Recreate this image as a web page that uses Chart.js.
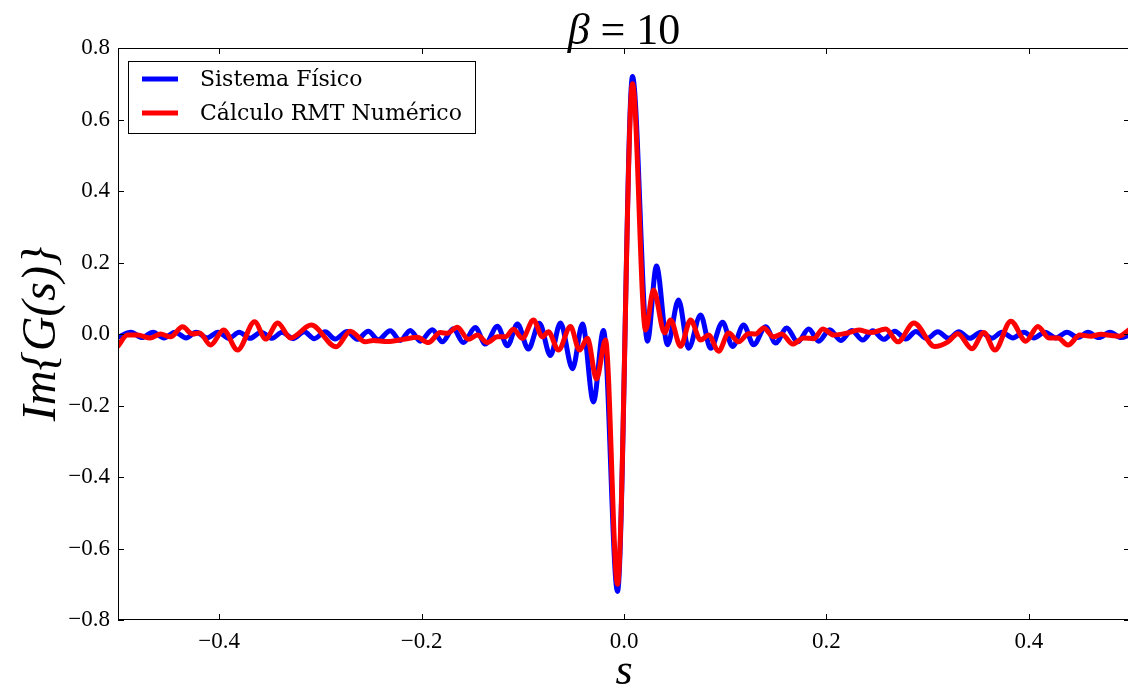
<!DOCTYPE html>
<html>
<head>
<meta charset="utf-8">
<script src="https://cdn.jsdelivr.net/npm/chart.js@4/dist/chart.umd.min.js"></script>
<style>
  html, body { margin: 0; padding: 0; background: #fff; overflow: hidden; }
  #wrap { position: relative; width: 1130px; height: 686px; }
</style>
</head>
<body>
<div id="wrap"><canvas id="chart" width="1130" height="686"></canvas></div>
<script>
// ===== DATA =====
const xTicks = [-0.4, -0.2, 0.0, 0.2, 0.4];
const yTicks = [-0.8, -0.6, -0.4, -0.2, 0.0, 0.2, 0.4, 0.6, 0.8];

// Sistema Físico (blue)
const fisicoS = [-0.5, -0.4872, -0.4763, -0.4654, -0.4545, -0.4436, -0.4327, -0.4228, -0.412, -0.4011,
  -0.3902, -0.3803, -0.3694, -0.3586, -0.3477, -0.3378, -0.3269, -0.316, -0.3061, -0.2953,
  -0.2854, -0.2735, -0.2636, -0.2527, -0.2428, -0.231, -0.2211, -0.2112, -0.2013, -0.1894,
  -0.1795, -0.1687, -0.1588, -0.1469, -0.137, -0.1251, -0.1152, -0.1053, -0.0945, -0.0836,
  -0.0727, -0.0628, -0.0509, -0.041, -0.0302, -0.0203, -0.0064, 0.0084, 0.0232, 0.0321,
  0.043, 0.0539, 0.0638, 0.0757, 0.0856, 0.0974, 0.1073, 0.1182, 0.1281, 0.14,
  0.1499, 0.1608, 0.1716, 0.1825, 0.1924, 0.2033, 0.2142, 0.225, 0.2359, 0.2458,
  0.2567, 0.2676, 0.2785, 0.2884, 0.2992, 0.3101, 0.321, 0.3309, 0.3418, 0.3526,
  0.3635, 0.3734, 0.3843, 0.3952, 0.4051, 0.4159, 0.4268, 0.4377, 0.4486, 0.4585,
  0.4693, 0.4802, 0.4911, 0.5];
const fisicoG = [-0.009, 0.005, -0.010, 0.005, -0.011, 0.005, -0.011, 0.005, -0.011, 0.005,
  -0.012, 0.005, -0.012, 0.005, -0.012, 0.005, -0.013, 0.006, -0.013, 0.006,
  -0.014, 0.007, -0.015, 0.008, -0.016, 0.009, -0.018, 0.010, -0.020, 0.012,
  -0.022, 0.015, -0.024, 0.018, -0.028, 0.022, -0.033, 0.028, -0.042, 0.030,
  -0.060, 0.031, -0.097, 0.028, -0.190, 0.010, -0.720, 0.720, -0.020, 0.190,
  -0.030, 0.095, -0.040, 0.053, -0.040, 0.033, -0.035, 0.025, -0.030, 0.020,
  -0.025, 0.017, -0.022, 0.014, -0.020, 0.012, -0.018, 0.010, -0.017, 0.009,
  -0.015, 0.008, -0.014, 0.007, -0.013, 0.006, -0.012, 0.006, -0.012, 0.005,
  -0.012, 0.005, -0.011, 0.005, -0.011, 0.005, -0.011, 0.005, -0.010, 0.005,
  -0.010, 0.005, -0.010, -0.002];

// Cálculo RMT Numérico (red)
const rmtS = [-0.5, -0.4906, -0.4807, -0.4678, -0.4579, -0.4481, -0.4362, -0.4263, -0.4194, -0.4085,
  -0.3957, -0.3818, -0.365, -0.3541, -0.3422, -0.3294, -0.3091, -0.2844, -0.2705, -0.2557,
  -0.2478, -0.2339, -0.2181, -0.2043, -0.1934, -0.1815, -0.1746, -0.1647, -0.1538, -0.1449,
  -0.135, -0.1251, -0.1172, -0.1093, -0.1004, -0.0895, -0.0806, -0.0747, -0.0648, -0.0529,
  -0.044, -0.0361, -0.0272, -0.0183, -0.0064, 0.0084, 0.0213, 0.0292, 0.0401, 0.046,
  0.0559, 0.0658, 0.0757, 0.0836, 0.0935, 0.1034, 0.1133, 0.1231, 0.1301, 0.138,
  0.1479, 0.1558, 0.1667, 0.1776, 0.1875, 0.1964, 0.2073, 0.2211, 0.232, 0.2439,
  0.2587, 0.2706, 0.2864, 0.3072, 0.3201, 0.3299, 0.3438, 0.3556, 0.3665, 0.3823,
  0.3971, 0.409, 0.4199, 0.4288, 0.4387, 0.4505, 0.4614, 0.4713, 0.4812, 0.4891, 0.5];
const rmtG = [-0.034, -0.003, -0.003, -0.011, 0.000, -0.008, 0.020, 0.000, 0.003, -0.031,
  0.011, -0.045, 0.034, -0.014, 0.031, -0.011, 0.025, -0.036, 0.008, -0.022,
  -0.018, -0.021, -0.015, -0.009, -0.024, 0.004, 0.002, 0.019, -0.015, -0.003,
  -0.024, -0.008, -0.008, 0.013, -0.012, 0.039, -0.008, 0.006, -0.045, 0.021,
  -0.045, -0.012, -0.126, -0.017, -0.700, 0.700, 0.011, 0.123, 0.003, 0.039,
  -0.034, 0.039, -0.017, -0.003, -0.048, 0.003, -0.022, 0.001, 0.000, 0.017,
  -0.008, 0.000, -0.028, -0.011, -0.013, 0.014, -0.003, 0.003, 0.011, 0.004,
  0.014, -0.022, 0.031, -0.035, -0.022, 0.001, -0.041, 0.004, -0.045, 0.036,
  -0.020, 0.021, -0.011, -0.011, -0.031, -0.003, -0.006, -0.001, -0.004, -0.006, 0.014];

const SERIF = '"Liberation Serif", "Times New Roman", serif';
const fmt = v => (Math.abs(v) < 1e-9 ? 0 : v).toFixed(1).replace('-', '\u2212');

// ===== FRAME / INWARD TICKS / TITLE / LEGEND =====
const decor = {
  id: 'decor',
  afterDatasetsDraw(chart) {
    const { ctx, chartArea: a, scales: { x, y } } = chart;
    ctx.save();
    ctx.strokeStyle = '#000';
    ctx.lineWidth = 1;
    ctx.strokeRect(a.left + 0.5, a.top + 0.5, a.right - a.left - 1, a.bottom - a.top - 1);
    ctx.beginPath();
    xTicks.forEach(v => {
      const px = Math.round(x.getPixelForValue(v)) + 0.5;
      ctx.moveTo(px, a.bottom); ctx.lineTo(px, a.bottom - 6);
      ctx.moveTo(px, a.top); ctx.lineTo(px, a.top + 6);
    });
    yTicks.forEach(v => {
      const py = Math.round(y.getPixelForValue(v)) + 0.5;
      ctx.moveTo(a.left, py); ctx.lineTo(a.left + 6, py);
      ctx.moveTo(a.right, py); ctx.lineTo(a.right - 6, py);
    });
    ctx.stroke();

    // legend
    const lx = 128, ly = 61, lw = 347, lh = 72;
    ctx.fillStyle = '#fff';
    ctx.fillRect(lx, ly, lw, lh);
    ctx.strokeRect(lx + 0.5, ly + 0.5, lw, lh);
    ctx.font = '22px "DejaVu Serif"';
    ctx.textBaseline = 'middle';
    chart.data.datasets.forEach((ds, i) => {
      const yy = ly + 18 + i * 34;
      ctx.strokeStyle = ds.borderColor;
      ctx.lineWidth = 5;
      ctx.beginPath();
      ctx.moveTo(142, yy); ctx.lineTo(178, yy);
      ctx.stroke();
      ctx.fillStyle = '#000';
      ctx.fillText(ds.label, 200, yy + 1);
    });

    // title
    const cx = (a.left + a.right) / 2;
    ctx.fillStyle = '#000';
    ctx.textBaseline = 'alphabetic';
    const b = 'β';
    const rest = ' = 10';
    ctx.font = 'italic 44px ' + SERIF;
    const wb = ctx.measureText(b).width;
    ctx.font = '44px ' + SERIF;
    const wr = ctx.measureText(rest).width;
    const x0 = cx - (wb + wr) / 2;
    ctx.font = 'italic 44px ' + SERIF;
    ctx.fillText(b, x0, 44);
    ctx.font = '44px ' + SERIF;
    ctx.fillText(rest, x0 + wb, 44);
    ctx.restore();
  }
};

// ===== CHART =====
new Chart(document.getElementById('chart'), {
  type: 'line',
  data: {
    datasets: [
      {
        label: 'Sistema Físico',
        data: fisicoS.map((s, i) => ({ x: s, y: fisicoG[i] })),
        borderColor: '#0000ff',
        order: 2
      },
      {
        label: 'Cálculo RMT Numérico',
        data: rmtS.map((s, i) => ({ x: s, y: rmtG[i] })),
        borderColor: '#ff0000',
        order: 1
      }
    ]
  },
  options: {
    responsive: false,
    animation: false,
    layout: { padding: { top: 48, right: 0, bottom: 0, left: 0 } },
    elements: {
      point: { radius: 0 },
      line: { borderWidth: 5, cubicInterpolationMode: 'monotone', borderCapStyle: 'round', borderJoinStyle: 'round', fill: false }
    },
    plugins: {
      legend: { display: false },
      tooltip: { enabled: false },
      title: { display: false }
    },
    scales: {
      x: {
        type: 'linear',
        min: -0.5,
        max: 0.5,
        afterBuildTicks: axis => { axis.ticks = xTicks.map(v => ({ value: v })); },
        afterFit: axis => { axis.height = 66; },
        grid: { display: false },
        border: { display: false },
        ticks: {
          color: '#000',
          padding: 0,
          maxRotation: 0,
          font: { family: SERIF, size: 23 },
          callback: v => fmt(v)
        },
        title: {
          display: true,
          text: 's',
          color: '#000',
          font: { family: SERIF, size: 44, style: 'italic', lineHeight: 0.6 },
          padding: { top: 0, bottom: 0 }
        }
      },
      y: {
        min: -0.8,
        max: 0.8,
        afterBuildTicks: axis => { axis.ticks = yTicks.map(v => ({ value: v })); },
        afterFit: axis => { axis.width = 118; },
        grid: { display: false },
        border: { display: false },
        ticks: {
          color: '#000',
          padding: 0,
          font: { family: SERIF, size: 23 },
          callback: v => fmt(v)
        },
        title: {
          display: true,
          text: 'Im{G(s)}',
          color: '#000',
          font: { family: SERIF, size: 48, style: 'italic', lineHeight: 1 },
          padding: { top: 18, bottom: 0 }
        }
      }
    }
  },
  plugins: [decor]
});
</script>
</body>
</html>
